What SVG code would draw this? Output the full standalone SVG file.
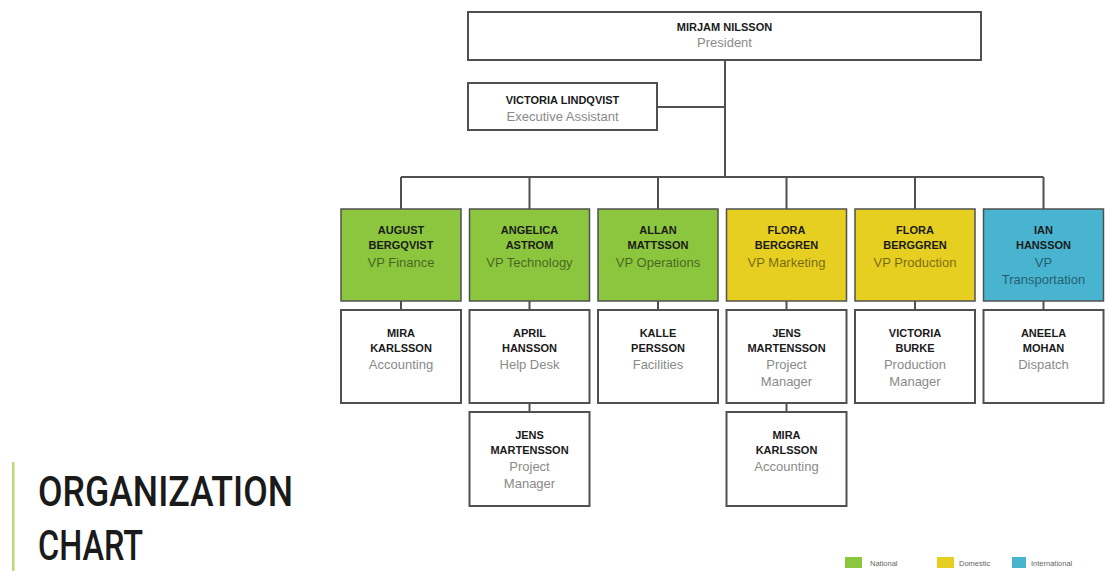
<svg xmlns="http://www.w3.org/2000/svg" width="1105" height="571" viewBox="0 0 1105 571">
<style>
.box{fill:#fff;stroke:#505050;stroke-width:2}
.g{fill:#8cc63f;stroke:#505050;stroke-width:1.5}
.y{fill:#e6cf20;stroke:#505050;stroke-width:1.5}
.b{fill:#48b4d0;stroke:#505050;stroke-width:1.5}
.n{font-family:"Liberation Sans",Arial,sans-serif;font-weight:bold;font-size:11px;fill:#1a1a1a;text-anchor:middle}
.r{font-family:"Liberation Sans",Arial,sans-serif;font-size:13px;fill:#8a8a8a;text-anchor:middle}
.rc{font-family:"Liberation Sans",Arial,sans-serif;font-size:13px;fill:#000;fill-opacity:.5;text-anchor:middle}
.ln{stroke:#505050;stroke-width:2;fill:none}
.lg{font-family:"Liberation Sans",Arial,sans-serif;font-size:7.5px;fill:#666}
.t{font-family:Roboto,"Liberation Sans",Arial,sans-serif;font-weight:500;font-size:43px;fill:#1a1a1a}
</style>
<rect width="1105" height="571" fill="#fff"/>
<g id="connectors">
<path class="ln" d="M725 60 V177 M657 107 H725 M401 177 H1043.5 M401 177 V209 M529.5 177 V209 M658 177 V209 M786.5 177 V209 M915 177 V209 M1043.5 177 V209"/>
<path class="ln" d="M401 301 V310 M529.5 301 V310 M658 301 V310 M786.5 301 V310 M915 301 V310 M1043.5 301 V310 M529.5 403 V412 M786.5 403 V412"/>
</g>
<g id="president"><rect class="box" x="468" y="12" width="513" height="48"/><text class="n" x="724.5" y="31">MIRJAM NILSSON</text><text class="r" x="724.5" y="47">President</text></g>
<g id="assistant"><rect class="box" x="468" y="83" width="189" height="47"/><text class="n" x="562.5" y="104">VICTORIA LINDQVIST</text><text class="r" x="562.5" y="121">Executive Assistant</text></g>
<g id="vp-finance"><rect class="g" x="341" y="209" width="120" height="92"/><text class="n" x="401" y="234">AUGUST</text><text class="n" x="401" y="249">BERGQVIST</text><text class="rc" x="401" y="267">VP Finance</text></g>
<g id="vp-technology"><rect class="g" x="469.5" y="209" width="120" height="92"/><text class="n" x="529.5" y="234">ANGELICA</text><text class="n" x="529.5" y="249">ASTROM</text><text class="rc" x="529.5" y="267">VP Technology</text></g>
<g id="vp-operations"><rect class="g" x="598" y="209" width="120" height="92"/><text class="n" x="658" y="234">ALLAN</text><text class="n" x="658" y="249">MATTSSON</text><text class="rc" x="658" y="267">VP Operations</text></g>
<g id="vp-marketing"><rect class="y" x="726.5" y="209" width="120" height="92"/><text class="n" x="786.5" y="234">FLORA</text><text class="n" x="786.5" y="249">BERGGREN</text><text class="rc" x="786.5" y="267">VP Marketing</text></g>
<g id="vp-production"><rect class="y" x="855" y="209" width="120" height="92"/><text class="n" x="915" y="234">FLORA</text><text class="n" x="915" y="249">BERGGREN</text><text class="rc" x="915" y="267">VP Production</text></g>
<g id="vp-transportation"><rect class="b" x="983.5" y="209" width="120" height="92"/><text class="n" x="1043.5" y="234">IAN</text><text class="n" x="1043.5" y="249">HANSSON</text><text class="rc" x="1043.5" y="267">VP</text><text class="rc" x="1043.5" y="284">Transportation</text></g>
<g id="accounting"><rect class="box" x="341" y="310" width="120" height="93"/><text class="n" x="401" y="337">MIRA</text><text class="n" x="401" y="352">KARLSSON</text><text class="r" x="401" y="369">Accounting</text></g>
<g id="helpdesk"><rect class="box" x="469.5" y="310" width="120" height="93"/><text class="n" x="529.5" y="337">APRIL</text><text class="n" x="529.5" y="352">HANSSON</text><text class="r" x="529.5" y="369">Help Desk</text></g>
<g id="facilities"><rect class="box" x="598" y="310" width="120" height="93"/><text class="n" x="658" y="337">KALLE</text><text class="n" x="658" y="352">PERSSON</text><text class="r" x="658" y="369">Facilities</text></g>
<g id="pm-marketing"><rect class="box" x="726.5" y="310" width="120" height="93"/><text class="n" x="786.5" y="337">JENS</text><text class="n" x="786.5" y="352">MARTENSSON</text><text class="r" x="786.5" y="369">Project</text><text class="r" x="786.5" y="386">Manager</text></g>
<g id="production-manager"><rect class="box" x="855" y="310" width="120" height="93"/><text class="n" x="915" y="337">VICTORIA</text><text class="n" x="915" y="352">BURKE</text><text class="r" x="915" y="369">Production</text><text class="r" x="915" y="386">Manager</text></g>
<g id="dispatch"><rect class="box" x="983.5" y="310" width="120" height="93"/><text class="n" x="1043.5" y="337">ANEELA</text><text class="n" x="1043.5" y="352">MOHAN</text><text class="r" x="1043.5" y="369">Dispatch</text></g>
<g id="pm-technology"><rect class="box" x="469.5" y="412" width="120" height="94"/><text class="n" x="529.5" y="439">JENS</text><text class="n" x="529.5" y="454">MARTENSSON</text><text class="r" x="529.5" y="471">Project</text><text class="r" x="529.5" y="488">Manager</text></g>
<g id="accounting-2"><rect class="box" x="726.5" y="412" width="120" height="94"/><text class="n" x="786.5" y="439">MIRA</text><text class="n" x="786.5" y="454">KARLSSON</text><text class="r" x="786.5" y="471">Accounting</text></g>
<g id="title">
<rect x="12" y="462" width="2.5" height="109" fill="#bcd97a"/>
<text class="t" x="38" y="506" textLength="255" lengthAdjust="spacingAndGlyphs">ORGANIZATION</text>
<text class="t" x="38" y="560" textLength="105" lengthAdjust="spacingAndGlyphs">CHART</text>
</g>
<g id="legend">
<rect x="845" y="557" width="17" height="11" fill="#8cc63f"/><text class="lg" x="870" y="566">National</text>
<rect x="937" y="557" width="17" height="11" fill="#e6cf20"/><text class="lg" x="959" y="566">Domestic</text>
<rect x="1012" y="557" width="14" height="11" fill="#48b4d0"/><text class="lg" x="1031" y="566">International</text>
</g>
</svg>
